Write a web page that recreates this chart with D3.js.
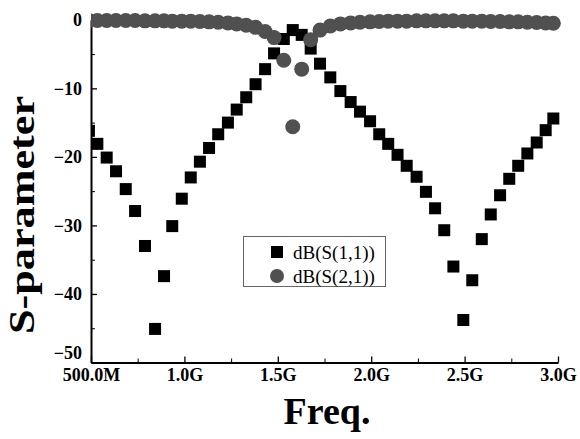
<!DOCTYPE html>
<html>
<head>
<meta charset="utf-8">
<script src="https://cdn.jsdelivr.net/npm/d3@7"></script>
<style>
  body { margin: 0; background: #fff; }
  svg { display: block; }
  .axis text { font-family: "Liberation Serif", "Times New Roman", serif; font-weight: bold; font-size: 18px; fill: #000; }
  .axis path, .axis line { stroke: #000; }
</style>
</head>
<body>
<svg width="580" height="439"></svg>
<script>
// frequency (GHz) of each sample
const freq = [0.489, 0.534, 0.584, 0.634, 0.686, 0.736, 0.789, 0.843, 0.891, 0.935,
  0.986, 1.034, 1.083, 1.132, 1.181, 1.233, 1.280, 1.331, 1.381, 1.432,
  1.480, 1.532, 1.580, 1.628, 1.676, 1.726, 1.781, 1.835, 1.890, 1.940,
  1.994, 2.043, 2.091, 2.141, 2.190, 2.243, 2.293, 2.342, 2.391, 2.440,
  2.493, 2.541, 2.592, 2.640, 2.690, 2.739, 2.787, 2.836, 2.886, 2.934, 2.975];

const s11 = [-16.2, -18.1, -20.1, -22.1, -24.7, -27.9, -33.0, -45.1, -37.4, -30.1,
  -26.1, -23.0, -20.7, -18.7, -16.7, -15.0, -13.1, -11.3, -9.4, -7.2,
  -4.9, -2.8, -1.5, -2.2, -4.2, -6.4, -8.4, -10.4, -12.0, -13.4,
  -14.8, -16.7, -18.1, -19.7, -21.3, -22.9, -25.1, -27.5, -30.7, -36.0,
  -43.8, -38.0, -32.0, -28.4, -25.6, -23.2, -21.3, -19.5, -17.9, -16.1, -14.4];

const s21 = [-0.1, -0.1, -0.1, -0.1, -0.1, -0.1, -0.15, -0.15, -0.15, -0.2,
  -0.2, -0.2, -0.25, -0.3, -0.35, -0.45, -0.6, -0.8, -1.1, -1.7,
  -2.6, -5.9, -15.6, -7.2, -2.9, -1.5, -0.9, -0.6, -0.45, -0.35,
  -0.3, -0.25, -0.2, -0.2, -0.2, -0.15, -0.15, -0.15, -0.15, -0.15,
  -0.2, -0.2, -0.2, -0.25, -0.25, -0.3, -0.3, -0.35, -0.4, -0.45, -0.5];

const xTicks = [0.5, 1.0, 1.5, 2.0, 2.5, 3.0];
const xTickLabels = ["500.0M", "1.0G", "1.5G", "2.0G", "2.5G", "3.0G"];
const xMinor = [0.75, 1.25, 1.75, 2.25, 2.75];
const yTicks = [0, -10, -20, -30, -40, -50];
const yMinor = [-5, -15, -25, -35, -45];
const seriesNames = ["dB(S(1,1))", "dB(S(2,1))"];

const svg = d3.select("svg");

const x = d3.scaleLinear().domain([0.5, 3.0]).range([91, 558]);
const y = d3.scaleLinear().domain([-50, 0]).range([362.5, 19.8]);

// minor ticks
svg.append("g")
  .attr("class", "axis")
  .attr("transform", `translate(0,${y(-50)})`)
  .call(d3.axisBottom(x).tickValues(xMinor).tickSize(-4).tickFormat(""))
  .call((g) => g.select(".domain").remove());

svg.append("g")
  .attr("class", "axis")
  .attr("transform", `translate(${x(0.5)},0)`)
  .call(d3.axisLeft(y).tickValues(yMinor).tickSize(-4).tickFormat(""))
  .call((g) => g.select(".domain").remove());

// major ticks + labels
const xAxis = svg.append("g")
  .attr("class", "axis")
  .attr("transform", `translate(0,${y(-50)})`)
  .call(
    d3.axisBottom(x)
      .tickValues(xTicks)
      .tickSizeInner(-6)
      .tickSizeOuter(0)
      .tickPadding(6)
      .tickFormat((d, i) => xTickLabels[i])
  );
xAxis.select(".domain").attr("stroke-width", 2);
xAxis.selectAll("line").attr("stroke-width", 1.3);

const yAxis = svg.append("g")
  .attr("class", "axis")
  .attr("transform", `translate(${x(0.5)},0)`)
  .call(
    d3.axisLeft(y)
      .tickValues(yTicks)
      .tickSizeInner(-6)
      .tickSizeOuter(0)
      .tickPadding(9)
      .tickFormat(d3.format("d"))
  );
yAxis.select(".domain").attr("stroke-width", 2);
yAxis.selectAll("line").attr("stroke-width", 1.3);
yAxis.selectAll(".tick text").filter((d) => d === -50).attr("dy", "-0.2em");

// clip marks at the left axis
svg.append("clipPath")
  .attr("id", "plotclip")
  .append("rect")
  .attr("x", x(0.5))
  .attr("y", 0)
  .attr("width", 580)
  .attr("height", 439);

const plot = svg.append("g").attr("clip-path", "url(#plotclip)");

const sq = 12;
plot.append("g")
  .selectAll("rect")
  .data(freq.map((f, i) => ({ f: f, v: s11[i] })))
  .enter()
  .append("rect")
  .attr("x", (d) => x(d.f) - sq / 2)
  .attr("y", (d) => y(d.v) - sq / 2)
  .attr("width", sq)
  .attr("height", sq)
  .attr("fill", "#000");

plot.append("g")
  .selectAll("circle")
  .data(freq.map((f, i) => ({ f: f, v: s21[i] })))
  .enter()
  .append("circle")
  .attr("cx", (d) => x(d.f))
  .attr("cy", (d) => y(d.v))
  .attr("r", 7.5)
  .attr("fill", "#505050");

// legend
const legend = svg.append("g");
legend.append("rect")
  .attr("x", 243.5)
  .attr("y", 236.5)
  .attr("width", 142)
  .attr("height", 50)
  .attr("fill", "#fff")
  .attr("stroke", "#666")
  .attr("stroke-width", 1);

legend.append("rect")
  .attr("x", 277 - sq / 2)
  .attr("y", 252 - sq / 2)
  .attr("width", sq)
  .attr("height", sq)
  .attr("fill", "#000");

legend.append("circle")
  .attr("cx", 277)
  .attr("cy", 276)
  .attr("r", 7)
  .attr("fill", "#505050");

legend.selectAll("text")
  .data(seriesNames)
  .enter()
  .append("text")
  .attr("x", 293)
  .attr("y", (d, i) => 252 + i * 24)
  .attr("dy", "0.35em")
  .attr("font-family", "Liberation Serif, Times New Roman, serif")
  .attr("font-size", 19)
  .text((d) => d);

// axis titles
svg.append("text")
  .attr("x", 327)
  .attr("y", 424)
  .attr("text-anchor", "middle")
  .attr("font-family", "Liberation Serif, Times New Roman, serif")
  .attr("font-weight", "bold")
  .attr("font-size", 38)
  .text("Freq.");

svg.append("text")
  .attr("transform", "translate(34,215) rotate(-90)")
  .attr("text-anchor", "middle")
  .attr("font-family", "Liberation Serif, Times New Roman, serif")
  .attr("font-weight", "bold")
  .attr("font-size", 35)
  .attr("textLength", 238)
  .attr("lengthAdjust", "spacingAndGlyphs")
  .text("S-parameter");
</script>
</body>
</html>
